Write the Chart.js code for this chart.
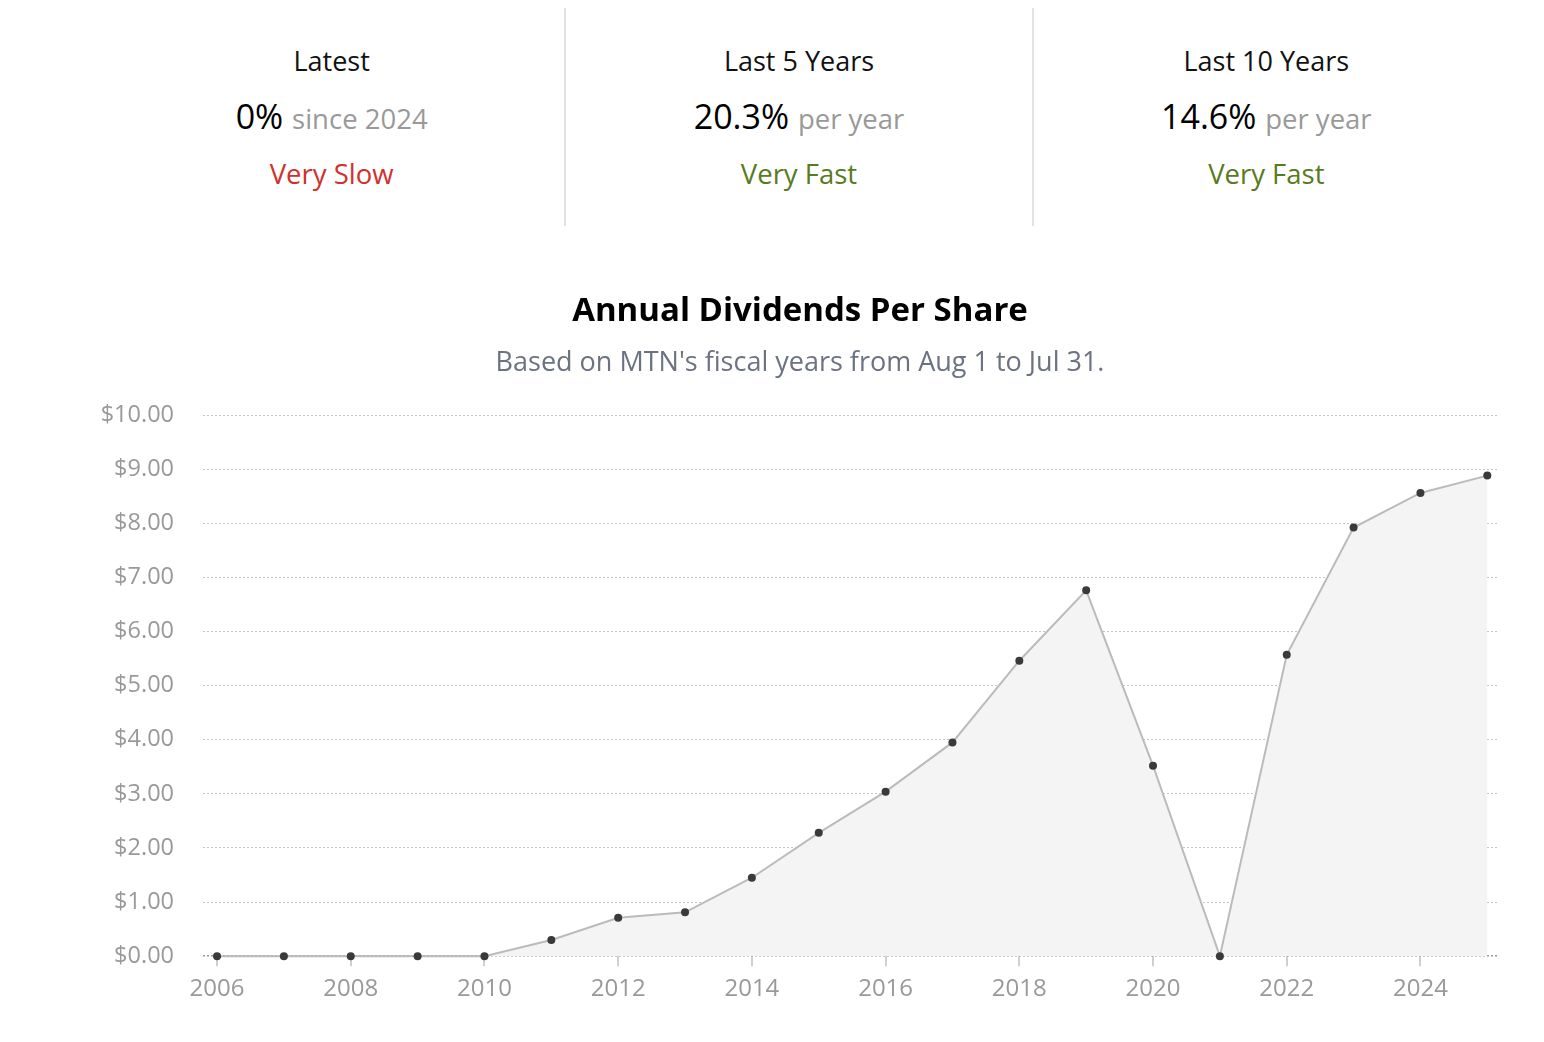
<!DOCTYPE html>
<html lang="en">
<head>
    <meta charset="UTF-8">
    <title>Annual Dividends Per Share</title>
    <script src="https://cdn.jsdelivr.net/npm/chart.js"></script>
    <style>
        body {
            margin: 0;
            font-family: "Open Sans", sans-serif;
            background: #fff;
            width: 1544px;
            height: 1042px;
            position: relative;
            overflow: hidden;
        }

        .stats {
            position: absolute;
            left: 99px;
            top: 8px;
            width: 1400px;
            height: 218px;
            display: flex;
        }

        .stat {
            flex: 1;
            text-align: center;
            position: relative;
        }

        .stat + .stat {
            border-left: 2px solid #e2e2e2;
        }

        .stat .label {
            position: absolute;
            width: 100%;
            top: 34px;
            font-size: 27px;
            color: #111;
        }

        .stat .value {
            position: absolute;
            width: 100%;
            top: 85px;
            font-size: 34px;
            color: #000;
        }

        .stat .value span {
            font-size: 27.5px;
            color: #999;
        }

        .stat .speed {
            position: absolute;
            width: 100%;
            top: 147px;
            font-size: 27.5px;
        }

        .slow { color: #d0312d; }
        .fast { color: #587b21; }

        .chart-box {
            position: absolute;
            left: 60px;
            top: 270px;
            width: 1484px;
            height: 750px;
        }
    </style>
</head>
<body>

    <div class="stats">
        <div class="stat">
            <div class="label">Latest</div>
            <div class="value">0% <span>since 2024</span></div>
            <div class="speed slow">Very Slow</div>
        </div>
        <div class="stat">
            <div class="label">Last 5 Years</div>
            <div class="value">20.3% <span>per year</span></div>
            <div class="speed fast">Very Fast</div>
        </div>
        <div class="stat">
            <div class="label">Last 10 Years</div>
            <div class="value">14.6% <span>per year</span></div>
            <div class="speed fast">Very Fast</div>
        </div>
    </div>

    <div class="chart-box">
        <canvas id="dividends"></canvas>
    </div>

    <script>
        // fiscal years and dividends per share (USD)
        const years = [2006, 2007, 2008, 2009, 2010, 2011, 2012, 2013, 2014, 2015,
                       2016, 2017, 2018, 2019, 2020, 2021, 2022, 2023, 2024, 2025];
        const dividends = [0, 0, 0, 0, 0, 0.30, 0.71, 0.81, 1.45, 2.28,
                           3.04, 3.95, 5.46, 6.76, 3.52, 0, 5.57, 7.92, 8.56, 8.88];

        const xTickYears = [2006, 2008, 2010, 2012, 2014, 2016, 2018, 2020, 2022, 2024];
        const yTickValues = [0, 1, 2, 3, 4, 5, 6, 7, 8, 9, 10];

        Chart.defaults.font.family = '"Open Sans", sans-serif';

        const ctx = document.getElementById('dividends').getContext('2d');
        const chart = new Chart(ctx, {
            type: 'line',
            data: {
                datasets: [{
                    label: 'Dividends',
                    data: years.map((y, i) => ({ x: y, y: dividends[i] })),
                    borderColor: '#bbbbbb',
                    borderWidth: 2,
                    backgroundColor: '#f4f4f4',
                    fill: 'origin',
                    tension: 0,
                    clip: false,
                    pointRadius: 4,
                    pointBackgroundColor: '#3a3a3a',
                    pointBorderWidth: 0
                }]
            },
            options: {
                responsive: true,
                maintainAspectRatio: false,
                animation: false,
                layout: {
                    padding: { left: 42, right: 46, top: 0, bottom: 7 }
                },
                scales: {
                    x: {
                        type: 'linear',
                        min: 2005.79,
                        max: 2025.16,
                        afterBuildTicks: (scale) => {
                            scale.ticks = xTickYears.map(v => ({ value: v }));
                        },
                        ticks: {
                            callback: (v) => String(v),
                            color: '#999',
                            font: { size: 24 },
                            padding: 9,
                            maxRotation: 0,
                            autoSkip: false
                        },
                        grid: {
                            drawOnChartArea: false,
                            drawTicks: true,
                            tickLength: 10,
                            color: '#d0d0d0',
                            lineWidth: 2
                        },
                        border: { display: false }
                    },
                    y: {
                        min: 0,
                        max: 10,
                        afterBuildTicks: (scale) => {
                            scale.ticks = yTickValues.map(v => ({ value: v }));
                        },
                        afterFit: (scale) => {
                            scale.width = 101;
                        },
                        ticks: {
                            callback: (v) => '$' + v.toFixed(2),
                            color: '#999',
                            font: { size: 23.5 },
                            padding: 29
                        },
                        grid: {
                            drawTicks: false,
                            color: (c) => c.tick && c.tick.value === 0 ? '#999' : '#c4c4c4',
                            lineWidth: (c) => c.tick && c.tick.value === 0 ? 1.5 : 1
                        },
                        border: { display: false, dash: [2, 2] }
                    }
                },
                plugins: {
                    legend: { display: false },
                    tooltip: { enabled: false },
                    title: {
                        display: true,
                        text: 'Annual Dividends Per Share',
                        color: '#000',
                        font: { size: 33, weight: 'bold' },
                        padding: { top: 22, bottom: 16 }
                    },
                    subtitle: {
                        display: true,
                        text: "Based on MTN's fiscal years from Aug 1 to Jul 31.",
                        color: '#6b7280',
                        font: { size: 27 },
                        padding: { top: 0, bottom: 35 }
                    }
                }
            }
        });
    </script>

</body>
</html>
